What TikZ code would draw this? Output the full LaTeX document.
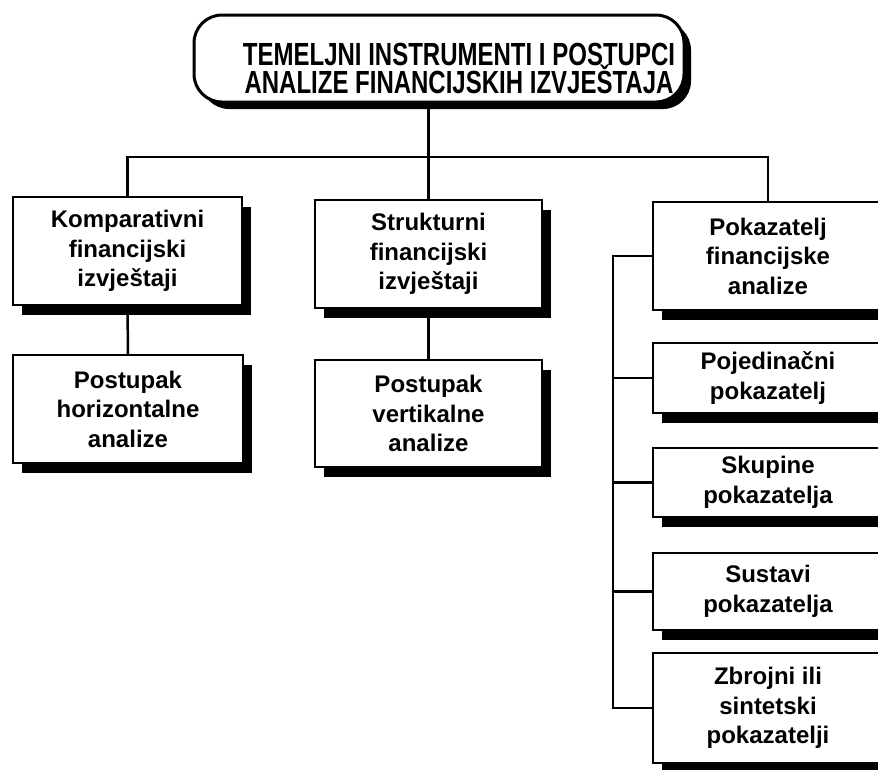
\documentclass[tikz,border=0pt]{standalone}
\usepackage{fontspec}
\setmainfont{Liberation Sans}
\newfontfamily\titlefont[FakeStretch=0.75]{Liberation Sans}
\usetikzlibrary{shadows}
\begin{document}
\begin{tikzpicture}[x=1pt,y=-1pt,
  boxstyle/.style={draw=black, line width=2pt, fill=white, align=center,
    font=\bfseries\fontsize{24}{29.5}\selectfont, inner sep=0pt,
    drop shadow={shadow xshift=9pt, shadow yshift=-10pt, fill=black, opacity=1}},
  titlestyle/.style={draw=black, line width=3pt, fill=white, rounded corners=28pt,
    inner sep=0pt, minimum width=490pt, minimum height=87pt,
    drop shadow={shadow xshift=7pt, shadow yshift=-7pt, fill=black, opacity=1}},
  titletext/.style={align=center, font={\titlefont\bfseries\fontsize{32}{28}\selectfont\lineskiplimit-100pt\relax}, inner sep=0pt},
  conn/.style={draw=black, line width=2.5pt}]
\useasboundingbox (0,0) rectangle (878,769);
\clip (0,0) rectangle (878,769);
\fill[white] (0,0) rectangle (878,769);
% nodes
\node[titlestyle] (title) at (439,58.5) {};
\node[titletext] (titletxt) at (459,68) {TEMELJNI INSTRUMENTI I POSTUPCI\\ANALIZE FINANCIJSKIH IZVJEŠTAJA};
\node[boxstyle, minimum width=229pt, minimum height=108pt] (b1) at (127.5,251) {Komparativni\\financijski\\izvještaji};
\node[boxstyle, minimum width=230pt, minimum height=108pt] (b2) at (128,409) {Postupak\\horizontalne\\analize};
\node[boxstyle, minimum width=227pt, minimum height=108pt] (b3) at (428.5,254) {Strukturni\\financijski\\izvještaji};
\node[boxstyle, minimum width=227pt, minimum height=107pt] (b4) at (428.5,413.5) {Postupak\\vertikalne\\analize};
\node[boxstyle, minimum width=230pt, minimum height=108pt] (b5) at (768,256) {Pokazatelj\\financijske\\analize};
\node[boxstyle, minimum width=230pt, minimum height=70pt] (b6) at (768,378) {Pojedinačni\\pokazatelj};
\node[boxstyle, minimum width=230pt, minimum height=69pt] (b7) at (768,482.5) {Skupine\\pokazatelja};
\node[boxstyle, minimum width=230pt, minimum height=77pt] (b8) at (768,591.5) {Sustavi\\pokazatelja};
\node[boxstyle, minimum width=230pt, minimum height=110pt] (b9) at (768,708) {Zbrojni ili\\sintetski\\pokazatelji};
% connectors
\coordinate (hy) at (0,157);
\coordinate (bx) at (613,0);
\draw[conn] (b3.north |- title.south) -- (b3.north |- hy);
\draw[conn] (b1.north) -- (b1.north |- hy) -- (b5.north |- hy) -- (b5.north);
\draw[conn] (b3.north |- hy) -- (b3.north);
\draw[conn] (b1.south) -- (b2.north);
\draw[conn] (b3.south) -- (b4.north);
\draw[conn] (b5.west) -- (bx |- b5.west) -- (bx |- b9.west) -- (b9.west);
\draw[conn] (bx |- b6.west) -- (b6.west);
\draw[conn] (bx |- b7.west) -- (b7.west);
\draw[conn] (bx |- b8.west) -- (b8.west);
\end{tikzpicture}
\end{document}
